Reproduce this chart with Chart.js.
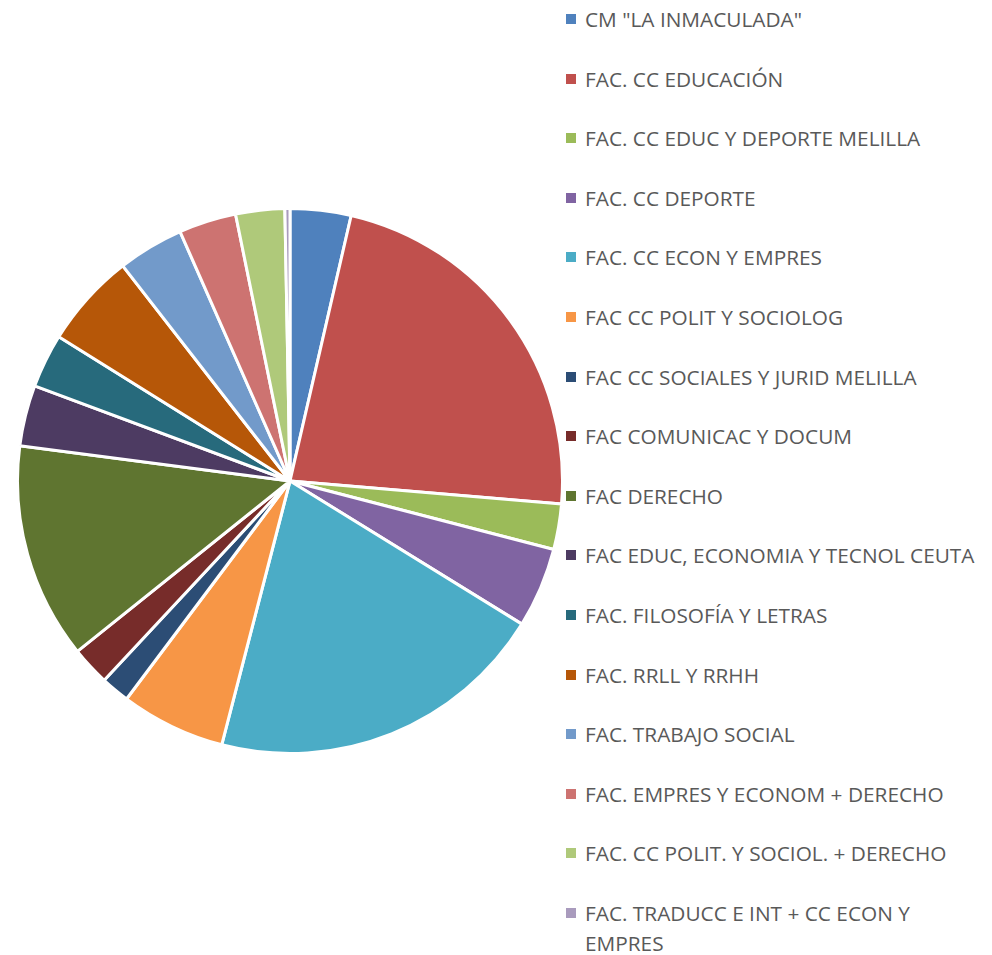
<!DOCTYPE html>
<html>
<head>
<meta charset="utf-8">
<script src="https://cdn.jsdelivr.net/npm/chart.js@4.4.1/dist/chart.umd.min.js"></script>
<style>
    body { margin: 0; background: #fff; width: 992px; height: 955px; position: relative; overflow: hidden; }
    #pieBox { position: absolute; left: 16px; top: 207px; width: 548px; height: 548px; }
    #legend { position: absolute; left: 566px; top: 4px; width: 426px; font-family: "Open Sans", sans-serif; font-size: 20.8px; color: #595959; }
    .item { position: absolute; left: 0; width: 426px; display: flex; align-items: flex-start; }
    .box { width: 10px; height: 10px; margin-top: 10px; margin-right: 9px; flex: none; }
    .txt { line-height: 30px; max-width: 400px; }
</style>
</head>
<body>
<div id="pieBox"><canvas id="pie"></canvas></div>
<div id="legend"></div>
<script>
// categorias y porcentajes
const labels = [
    'CM "LA INMACULADA"',
    'FAC. CC EDUCACIÓN',
    'FAC. CC EDUC Y DEPORTE MELILLA',
    'FAC. CC DEPORTE',
    'FAC. CC ECON Y EMPRES',
    'FAC CC POLIT Y SOCIOLOG',
    'FAC CC SOCIALES Y JURID MELILLA',
    'FAC COMUNICAC Y DOCUM',
    'FAC DERECHO',
    'FAC EDUC, ECONOMIA Y TECNOL CEUTA',
    'FAC. FILOSOFÍA Y LETRAS',
    'FAC. RRLL Y RRHH',
    'FAC. TRABAJO SOCIAL',
    'FAC. EMPRES Y ECONOM + DERECHO',
    'FAC. CC POLIT. Y SOCIOL. + DERECHO',
    'FAC. TRADUCC E INT + CC ECON Y EMPRES'
];
const values = [3.6, 22.7, 2.7, 4.75, 20.2, 6.2, 1.7, 2.3, 12.8, 3.6, 3.2, 5.6, 3.9, 3.4, 2.9, 0.3];
const colors = [
    '#4F81BD', '#C0504D', '#9BBB59', '#8064A2', '#4BACC6', '#F79646',
    '#2C4D75', '#772C2A', '#5F7530', '#4D3B62', '#276A7C', '#B65708',
    '#729ACA', '#CD7371', '#AFC97A', '#A99BBD'
];

new Chart(document.getElementById('pie'), {
    type: 'pie',
    data: {
        labels: labels,
        datasets: [{
            data: values,
            backgroundColor: colors,
            borderColor: '#ffffff',
            borderWidth: 3
        }]
    },
    options: {
        responsive: true,
        maintainAspectRatio: false,
        animation: false,
        plugins: {
            legend: { display: false },
            tooltip: { enabled: false }
        }
    }
});

// leyenda a la derecha
const legend = document.getElementById('legend');
labels.forEach((name, i) => {
    const row = document.createElement('div');
    row.className = 'item';
    row.style.top = (i * 59.6) + 'px';
    row.innerHTML = '<span class="box" style="background:' + colors[i] + '"></span><span class="txt">' + name + '</span>';
    legend.appendChild(row);
});
</script>
</body>
</html>
